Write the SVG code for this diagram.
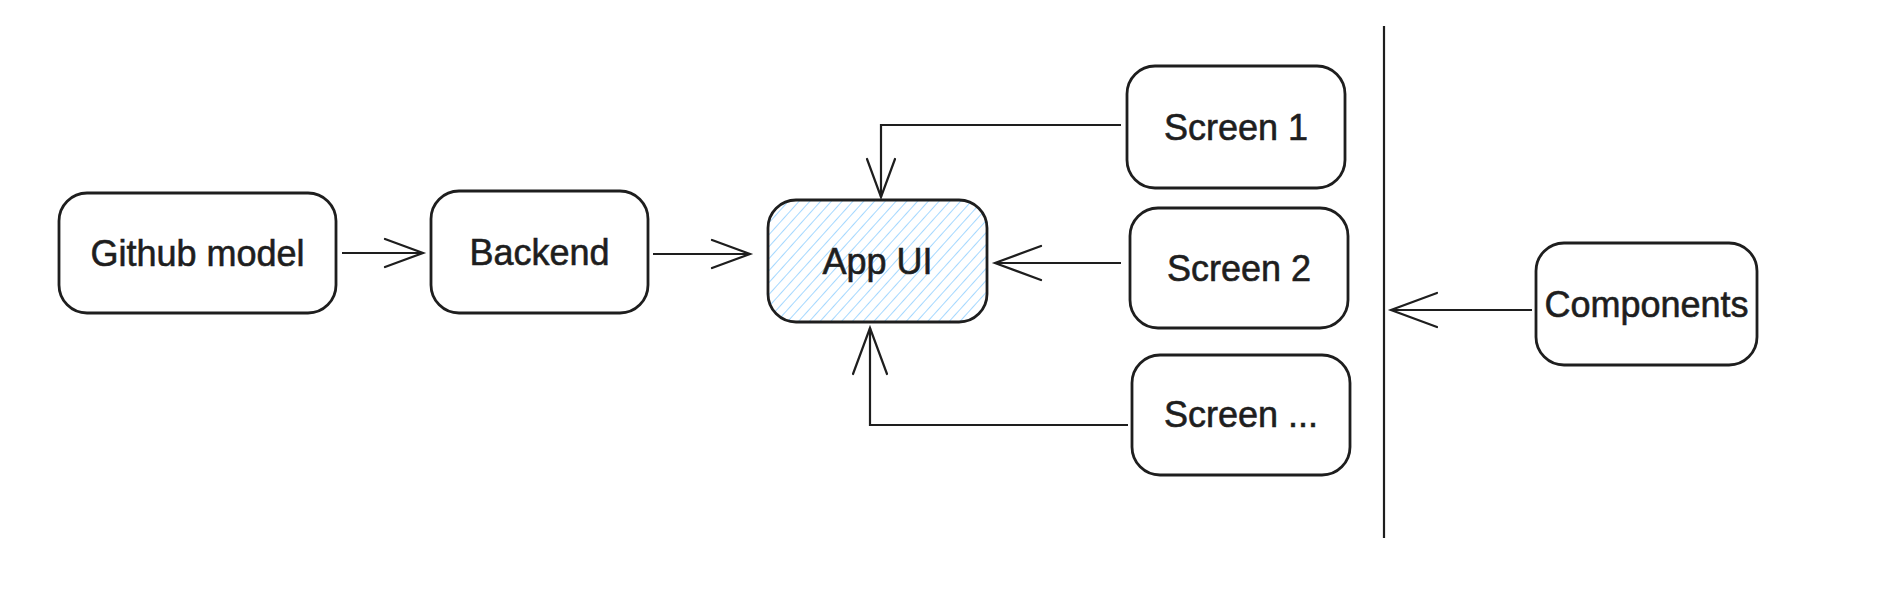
<svg xmlns="http://www.w3.org/2000/svg" width="1890" height="606" viewBox="0 0 1890 606">
  <style>
    .box { fill: #ffffff; stroke: #1e1e1e; stroke-width: 2.8; }
    .hatched { fill: url(#hatch); stroke: #1e1e1e; stroke-width: 2.8; }
    .lbl { font-family: "Liberation Sans", "DejaVu Sans", sans-serif; font-size: 36px; fill: #1e1e1e; stroke: #1e1e1e; stroke-width: 0.6; text-anchor: middle; }
    .conn { fill: none; stroke: #1e1e1e; stroke-width: 2.2; stroke-linejoin: miter; }
    .ahead { fill: none; stroke: #1e1e1e; stroke-width: 2.2; stroke-linecap: round; stroke-linejoin: miter; }
  </style>
  <defs>
    <pattern id="hatch" patternUnits="userSpaceOnUse" width="8" height="8" patternTransform="rotate(42)">
      <line x1="0" y1="0" x2="0" y2="8" stroke="#a5d8ff" stroke-width="2"/>
    </pattern>
    <marker id="ah" markerUnits="userSpaceOnUse" markerWidth="52" markerHeight="40" refX="48" refY="20" orient="auto" viewBox="0 0 52 40">
      <path class="ahead" d="M2,3 L48,20 L2,37"/>
    </marker>
    <marker id="ahs" markerUnits="userSpaceOnUse" markerWidth="44" markerHeight="34" refX="40" refY="17" orient="auto" viewBox="0 0 44 34">
      <path class="ahead" d="M2,3 L40,17 L2,31"/>
    </marker>
  </defs>
  <rect width="1890" height="606" fill="#ffffff"/>

  <g id="connectors">
    <path class="conn" d="M342,253 L423,253" marker-end="url(#ahs)"/>
    <path class="conn" d="M653,254 L750,254" marker-end="url(#ahs)"/>
    <path class="conn" d="M1121,125 L881,125 L881,197" marker-end="url(#ahs)"/>
    <path class="conn" d="M1121,263 L995,263" marker-end="url(#ah)"/>
    <path class="conn" d="M1128,425 L870,425 L870,328" marker-end="url(#ah)"/>
    <path class="conn" d="M1532,310 L1391,310" marker-end="url(#ah)"/>
    <line id="divider" class="conn" x1="1384" y1="26" x2="1384" y2="538"/>
  </g>

  <g id="github-model">
    <rect class="box" x="59" y="193" width="277" height="120" rx="28"/>
    <text class="lbl" x="197.5" y="266">Github model</text>
  </g>
  <g id="backend">
    <rect class="box" x="431" y="191" width="217" height="122" rx="28"/>
    <text class="lbl" x="539.5" y="265">Backend</text>
  </g>
  <g id="app-ui">
    <rect class="hatched" x="768" y="200" width="219" height="122" rx="28"/>
    <text class="lbl" x="877.5" y="274">App UI</text>
  </g>
  <g id="screen-1">
    <rect class="box" x="1127" y="66" width="218" height="122" rx="28"/>
    <text class="lbl" x="1236" y="140">Screen 1</text>
  </g>
  <g id="screen-2">
    <rect class="box" x="1130" y="208" width="218" height="120" rx="28"/>
    <text class="lbl" x="1239" y="281">Screen 2</text>
  </g>
  <g id="screen-more">
    <rect class="box" x="1132" y="355" width="218" height="120" rx="28"/>
    <text class="lbl" x="1241" y="427">Screen ...</text>
  </g>
  <g id="components">
    <rect class="box" x="1536" y="243" width="221" height="122" rx="28"/>
    <text class="lbl" x="1646.5" y="317">Components</text>
  </g>
</svg>
